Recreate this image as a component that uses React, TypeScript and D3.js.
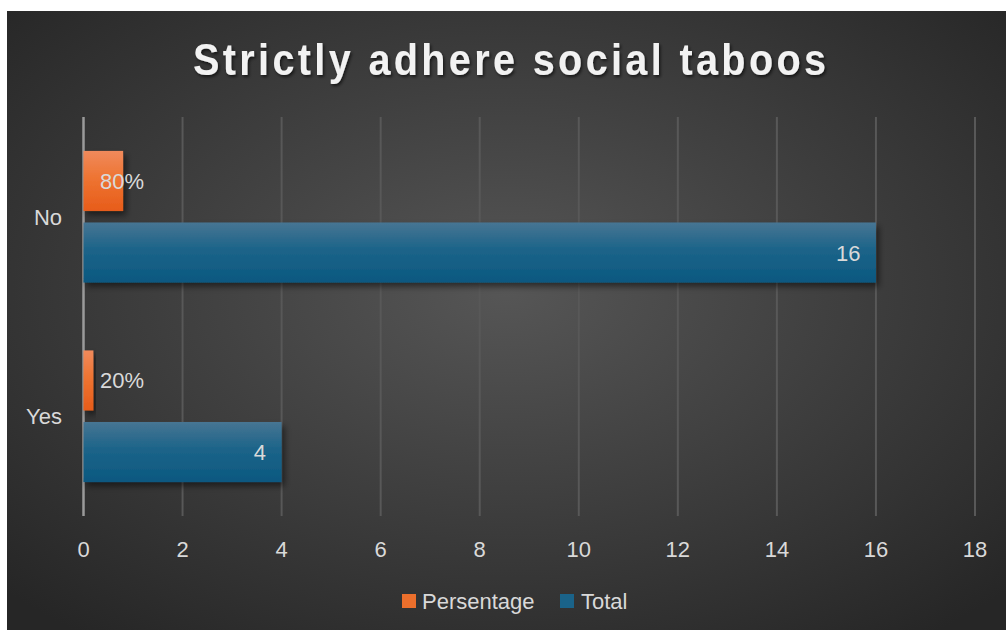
import React from "react";
import * as d3 from "d3";

const categories = ["No", "Yes"];
const percentage = [0.8, 0.2];
const percentageLabels = ["80%", "20%"];
const total = [16, 4];
const xTicks = [0, 2, 4, 6, 8, 10, 12, 14, 16, 18];
const seriesNames = ["Persentage", "Total"];
const title = "Strictly adhere social taboos";

const W = 1006;
const H = 630;
const FONT = "'Liberation Sans', Arial, sans-serif";
const FS = 22;
const TSX = 0.88;

export default function App() {
  const plot = { left: 83.5, right: 975, top: 117, bottom: 516 };
  const x = d3.scaleLinear().domain([0, 18]).range([plot.left, plot.right]);
  const y = d3.scaleBand().domain(categories).range([plot.top, plot.bottom]).paddingInner(0.34).paddingOuter(0.17);
  const sub = d3.scaleBand().domain(seriesNames).range([0, y.bandwidth()]).paddingInner(0.16);

  return (
    <svg width={W} height={H} style={{ position: "absolute", left: 0, top: 0 }}>
      <defs>
        <radialGradient id="bg" cx="0.5" cy="0.45" r="0.7">
          <stop offset="0" stopColor="#565656" />
          <stop offset="1" stopColor="#262626" />
        </radialGradient>
        <linearGradient id="gOrange" x1="0" y1="0" x2="0" y2="1">
          <stop offset="0" stopColor="#f08a5c" />
          <stop offset="0.45" stopColor="#ee7432" />
          <stop offset="1" stopColor="#e75c1a" />
        </linearGradient>
        <linearGradient id="gBlue" x1="0" y1="0" x2="0" y2="1">
          <stop offset="0" stopColor="#477593" />
          <stop offset="0.45" stopColor="#1c6489" />
          <stop offset="1" stopColor="#0b5880" />
        </linearGradient>
        <filter id="shadow" x="-10%" y="-20%" width="130%" height="160%">
          <feDropShadow dx="3" dy="4" stdDeviation="3" floodColor="#000" floodOpacity="0.5" />
        </filter>
        <filter id="tshadow" x="-5%" y="-30%" width="110%" height="170%">
          <feDropShadow dx="1.5" dy="2" stdDeviation="1.5" floodColor="#000" floodOpacity="0.6" />
        </filter>
      </defs>
      <rect x={0} y={0} width={W} height={H} fill="#ffffff" />
      <rect x={7} y={11} width={W - 7} height={H - 11} fill="url(#bg)" />

      <g filter="url(#tshadow)">
        <text
          transform={`translate(193,75) scale(${TSX},1)`}
          x={0}
          y={0}
          fontFamily={FONT}
          fontWeight="bold"
          fontSize={45}
          fill="#f2f2f2"
          textLength={633 / TSX}
          lengthAdjust="spacing"
        >
          {title}
        </text>
      </g>

      {xTicks.map((t) => (
        <line
          key={"g" + t}
          x1={x(t)}
          x2={x(t)}
          y1={plot.top}
          y2={plot.bottom}
          stroke={t === 0 ? "#9a9a9a" : "#585858"}
          strokeWidth={t === 0 ? 2.5 : 2}
        />
      ))}

      {xTicks.map((t) => (
        <text
          key={"t" + t}
          x={x(t)}
          y={556.5}
          textAnchor="middle"
          fontFamily={FONT}
          fontSize={FS}
          fill="#d9d9d9"
        >
          {t}
        </text>
      ))}

      {categories.map((c, i) => {
        const y0 = y(c) as number;
        const yo = y0 + (sub("Persentage") as number);
        const yb = y0 + (sub("Total") as number);
        const bh = sub.bandwidth();
        return (
          <g key={c}>
            <text
              x={62}
              y={y0 + y.bandwidth() / 2 + 8}
              textAnchor="end"
              fontFamily={FONT}
              fontSize={FS}
              fill="#d9d9d9"
            >
              {c}
            </text>
            <rect
              x={x(0)}
              y={yo}
              width={x(percentage[i]) - x(0)}
              height={bh}
              fill="url(#gOrange)"
              filter="url(#shadow)"
            />
            <rect
              x={x(0)}
              y={yb}
              width={x(total[i]) - x(0)}
              height={bh}
              fill="url(#gBlue)"
              filter="url(#shadow)"
            />
            <text
              x={x(0) + 16.5}
              y={yo + bh / 2 + 8}
              fontFamily={FONT}
              fontSize={FS}
              fill="#d9d9d9"
            >
              {percentageLabels[i]}
            </text>
            <text
              x={x(total[i]) - 15.5}
              y={yb + bh / 2 + 8}
              textAnchor="end"
              fontFamily={FONT}
              fontSize={FS}
              fill="#d9d9d9"
            >
              {total[i]}
            </text>
          </g>
        );
      })}

      <g>
        <rect x={402} y={594} width={14} height={14} fill="#ec6f2c" />
        <text x={422} y={609} fontFamily={FONT} fontSize={FS} fill="#d9d9d9">
          {seriesNames[0]}
        </text>
        <rect x={560} y={594} width={14} height={14} fill="#1a6389" />
        <text x={581} y={609} fontFamily={FONT} fontSize={FS} fill="#d9d9d9">
          {seriesNames[1]}
        </text>
      </g>
    </svg>
  );
}
